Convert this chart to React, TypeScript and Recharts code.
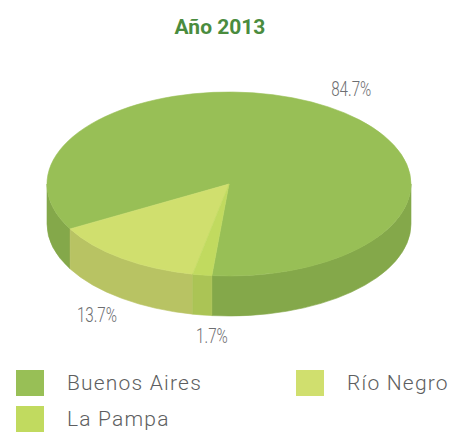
import React from 'react';
import { PieChart, Pie, Cell, Legend } from 'recharts';

const names = ['Buenos Aires', 'Río Negro', 'La Pampa'];
const shares = [84.7, 13.7, 1.7];
const topColors = ['#98BF56', '#D0DF6E', '#C1DA5F'];
const wallColors = ['#84A84A', '#B8C363', '#ABC455'];

const data = names.map((name, i) => ({
  name,
  value: shares[i],
  wall: wallColors[i],
}));

const TILT = 92 / 182;
const DEPTH = 40;
const RAD = Math.PI / 180;

const Slice3D = (props: any) => {
  const { cx, cy, outerRadius, startAngle, endAngle, fill } = props;
  const wall = props.wall ?? props.payload?.wall ?? fill;
  const rx = outerRadius;
  const ry = outerRadius * TILT;
  // screen angles, clockwise from 3 o'clock
  const a1 = Math.min(-startAngle, -endAngle);
  const a2 = Math.max(-startAngle, -endAngle);
  const pt = (t: number, dy = 0) =>
    `${cx + rx * Math.cos(t * RAD)},${cy + ry * Math.sin(t * RAD) + dy}`;

  const large = a2 - a1 > 180 ? 1 : 0;
  const top = `M${cx},${cy} L${pt(a1)} A${rx},${ry} 0 ${large} 1 ${pt(a2)} Z`;

  const walls: string[] = [];
  for (let n = -3; n <= 3; n++) {
    const lo = Math.max(a1, 360 * n);
    const hi = Math.min(a2, 360 * n + 180);
    if (hi > lo) {
      walls.push(
        `M${pt(lo)} A${rx},${ry} 0 0 1 ${pt(hi)} L${pt(hi, DEPTH)} A${rx},${ry} 0 0 0 ${pt(lo, DEPTH)} Z`
      );
    }
  }

  return (
    <g>
      {walls.map((d, i) => (
        <path key={i} d={d} fill={wall} stroke={wall} strokeWidth={0.6} />
      ))}
      <path d={top} fill={fill} stroke={fill} strokeWidth={0.6} />
    </g>
  );
};

const renderLabel = (props: any) => {
  const { cx, cy, midAngle, outerRadius, value } = props;
  const f = 1.23;
  const c = Math.cos(-midAngle * RAD);
  const s = Math.sin(-midAngle * RAD);
  const x = cx + outerRadius * f * c;
  const y = cy + outerRadius * TILT * f * s + (s > 0 ? DEPTH : 0);
  // condensed look: squeeze a light face horizontally
  return (
    <text
      transform={`translate(${x},${y}) scale(0.76,1)`}
      x={0}
      y={0}
      textAnchor={Math.abs(c) < 0.3 ? 'start' : 'middle'}
      dominantBaseline="central"
      fill="#6D6E71"
      fontSize={20}
      fontWeight={300}
      fontFamily="Roboto, sans-serif"
    >
      {`${value}%`}
    </text>
  );
};

const renderLegend = (props: any) => {
  const { payload } = props;
  return (
    <div
      style={{
        display: 'grid',
        gridTemplateColumns: '280px 155px',
        gridTemplateRows: '26px 26px',
        gridAutoFlow: 'column',
        rowGap: 10,
        paddingLeft: 16,
      }}
    >
      {(payload || []).map((entry: any) => (
        <div key={entry.value} style={{ display: 'flex', alignItems: 'center', height: 26 }}>
          <span
            style={{
              display: 'inline-block',
              width: 28,
              height: 26,
              background: entry.color,
              marginRight: 23,
            }}
          />
          <span
            style={{
              fontFamily: 'Roboto, sans-serif',
              fontWeight: 300,
              fontSize: 21,
              letterSpacing: 1.2,
              color: '#5D5E60',
              lineHeight: '26px',
            }}
          >
            {entry.value}
          </span>
        </div>
      ))}
    </div>
  );
};

export default function App() {
  return (
    <div style={{ position: 'absolute', left: 0, top: 0, width: 451, height: 432, background: '#fff' }}>
      <PieChart width={451} height={432} margin={{ top: 0, right: 0, bottom: 0, left: 0 }}>
        <Pie
          data={data}
          dataKey="value"
          nameKey="name"
          cx={229}
          cy={184}
          outerRadius={182}
          startAngle={264.6}
          endAngle={624.6}
          stroke="none"
          label={renderLabel}
          labelLine={false}
          shape={Slice3D}
          activeShape={Slice3D}
          isAnimationActive={false}
        >
          {data.map((d, i) => (
            <Cell key={d.name} fill={topColors[i]} />
          ))}
        </Pie>
        <Legend
          content={renderLegend}
          wrapperStyle={{ top: 370, left: 0, bottom: 'auto', width: 451 }}
        />
      </PieChart>
      <div
        style={{
          position: 'absolute',
          top: 17,
          left: 0,
          width: 440,
          textAlign: 'center',
          fontFamily: 'Roboto, sans-serif',
          fontWeight: 700,
          fontSize: 21,
          lineHeight: '21px',
          color: '#4A8C3E',
        }}
      >
        Año 2013
      </div>
    </div>
  );
}
